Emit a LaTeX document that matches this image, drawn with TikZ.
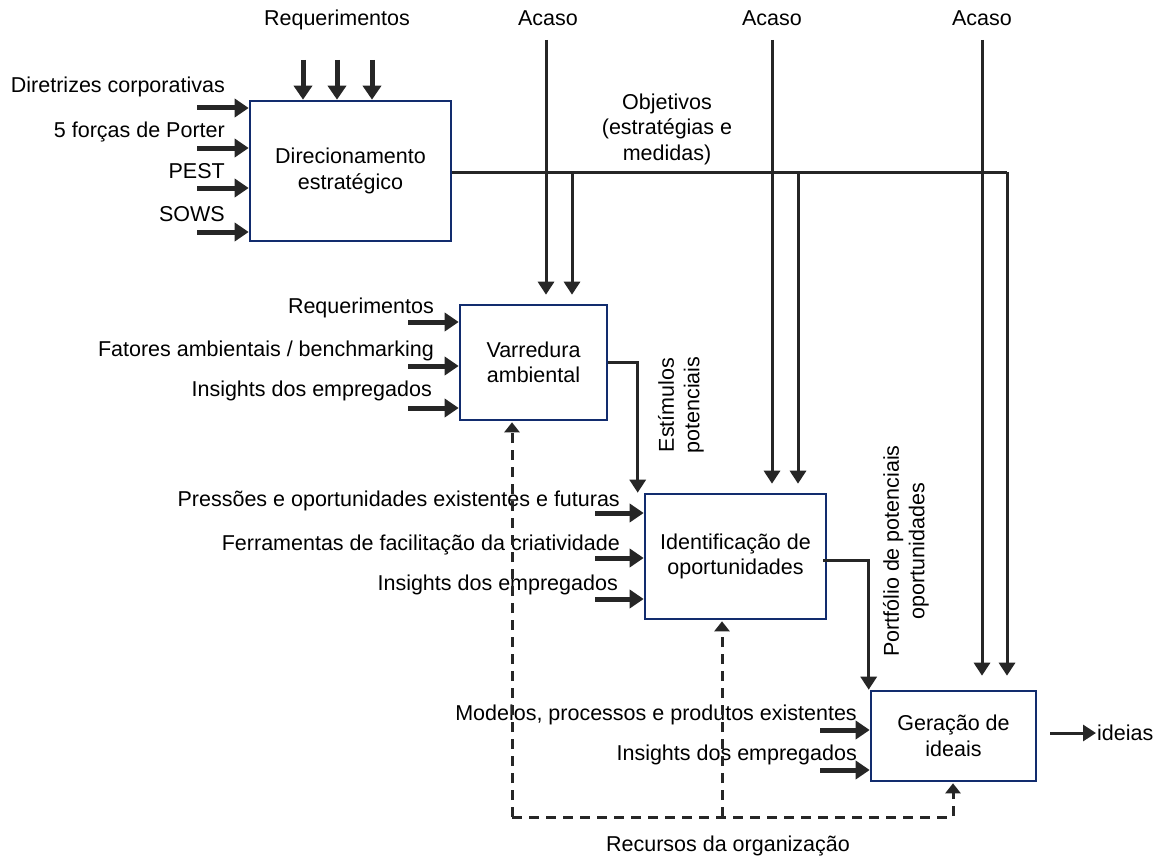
\documentclass[tikz,border=0pt]{standalone}
\usepackage{fontspec}
\setmainfont{Liberation Sans}
\usetikzlibrary{arrows.meta,calc}
\definecolor{boxblue}{RGB}{18,44,110}
\definecolor{ink}{RGB}{38,38,38}
\begin{document}
\begin{tikzpicture}[x=1pt,y=-1pt,
  every node/.style={font=\fontsize{21.5}{25.5}\selectfont, text=black, inner sep=0pt},
  box/.style={draw=boxblue, line width=2.6pt, fill=white, align=center},
  lbl/.style={anchor=base east},
  inarrow/.style={draw=ink, line width=5pt, -{Triangle[length=14pt,width=18pt]}},
  flow/.style={draw=ink, line width=3pt, -{Triangle[length=13pt,width=16pt]}},
  plain/.style={draw=ink, line width=3pt},
  resline/.style={draw=ink, line width=3pt, dash pattern=on 10pt off 7pt},
  restip/.style={-{Triangle[length=10pt,width=15pt]}}
]
\useasboundingbox (0,0) rectangle (1161,856);

% process boxes
\node[box, minimum width=201pt, minimum height=140pt] (dir) at (350.5,171) {Direcionamento\\estratégico};
\node[box, minimum width=147pt, minimum height=115pt] (var) at (533.5,362.5) {Varredura\\ambiental};
\node[box, minimum width=181pt, minimum height=125pt] (ide) at (735.5,556.5) {Identificação de\\oportunidades};
\node[box, minimum width=165pt, minimum height=90pt] (ger) at (953.5,736) {Geração de\\ideais};

% inputs of Direcionamento estratégico
\node[lbl] (d1) at (225,93) {Diretrizes corporativas};
\node[lbl] (d2) at (225,138) {5 forças de Porter};
\node[lbl] (d3) at (225,178) {PEST};
\node[lbl] (d4) at (225,221) {SOWS};
\foreach \y/\n in {108/1,148/2,188/3,232/4}{
  \coordinate (di\n) at (197,\y);
  \draw[inarrow] (di\n) -- (di\n -| dir.west);
}
\node[anchor=base] (req) at (337,26) {Requerimentos};
\foreach \x/\n in {303/1,337/2,372/3}{
  \coordinate (dt\n) at (\x,60);
  \draw[inarrow] (dt\n) -- (dt\n |- dir.north);
}

% inputs of Varredura ambiental
\node[lbl] (v1) at (434,313) {Requerimentos};
\node[lbl] (v2) at (434,356) {Fatores ambientais / benchmarking};
\node[lbl] (v3) at (432,396) {Insights dos empregados};
\foreach \y/\n in {322/1,366/2,408/3}{
  \coordinate (vi\n) at (408,\y);
  \draw[inarrow] (vi\n) -- (vi\n -| var.west);
}

% inputs of Identificação de oportunidades
\node[lbl] (i1) at (620,506) {Pressões e oportunidades existentes e futuras};
\node[lbl] (i2) at (620,550) {Ferramentas de facilitação da criatividade};
\node[lbl] (i3) at (618,590) {Insights dos empregados};
\foreach \y/\n in {513/1,558/2,599/3}{
  \coordinate (ii\n) at (595,\y);
  \draw[inarrow] (ii\n) -- (ii\n -| ide.west);
}

% inputs of Geração de ideais
\node[lbl] (g1) at (857,720) {Modelos, processos e produtos existentes};
\node[lbl] (g2) at (857,760) {Insights dos empregados};
\foreach \y/\n in {730/1,770/2}{
  \coordinate (gi\n) at (820,\y);
  \draw[inarrow] (gi\n) -- (gi\n -| ger.west);
}

% chance inputs
\node[anchor=base] (ac1) at (548,26) {Acaso};
\node[anchor=base] (ac2) at (772,26) {Acaso};
\node[anchor=base] (ac3) at (982,26) {Acaso};
\coordinate (a1) at (546,40);
\coordinate (a2) at (772,40);
\coordinate (a3) at (982,40);
\draw[flow, shorten >=9pt] (a1) -- (a1 |- var.north);
\draw[flow, shorten >=9pt] (a2) -- (a2 |- ide.north);
\draw[flow, shorten >=14pt] (a3) -- (a3 |- ger.north);

% objectives line with its branches
\node[align=center] (obj) at (667,129) {Objetivos\\(estratégias e\\medidas)};
\coordinate (oend) at (1007,172);
\coordinate (ob1) at (572,172);
\coordinate (ob2) at (798,172);
\draw[plain] (dir.east |- oend) -- (oend);
\draw[flow, shorten >=14pt] (oend) -- (oend |- ger.north);
\draw[flow, shorten >=9pt] (ob1) -- (ob1 |- var.north);
\draw[flow, shorten >=9pt] (ob2) -- (ob2 |- ide.north);

% outputs between stages
\draw[flow] (var.east) -| ([xshift=-6pt]ide.north west);
\node[rotate=90, align=center] (est) at (681,405) {Estímulos\\potenciais};
\draw[flow] ([xshift=-4pt,yshift=-4pt]ide.east) -| ([xshift=-1pt]ger.north west);
\node[rotate=90, align=center] (port) at (906,551) {Portfólio de potenciais\\oportunidades};

% final output
\node[anchor=west, inner sep=1pt] (out) at (1096,733) {ideias};
\coordinate (o1) at (1050,733);
\draw[flow] (o1) -- (out.west);

% organisational resources
\coordinate (r0) at (512,817);
\coordinate (rm) at (722,817);
\coordinate (r1) at (953,817);
\draw[resline, restip, shorten >=1pt] (r0) -- (r0 |- var.south);
\draw[resline, restip, shorten >=1pt] (r0) -- (r1) -- (r1 |- ger.south);
\draw[resline, restip, shorten >=1pt] (rm) -- (rm |- ide.south);
\node[anchor=base] (rec) at (728,851) {Recursos da organização};
\end{tikzpicture}
\end{document}
